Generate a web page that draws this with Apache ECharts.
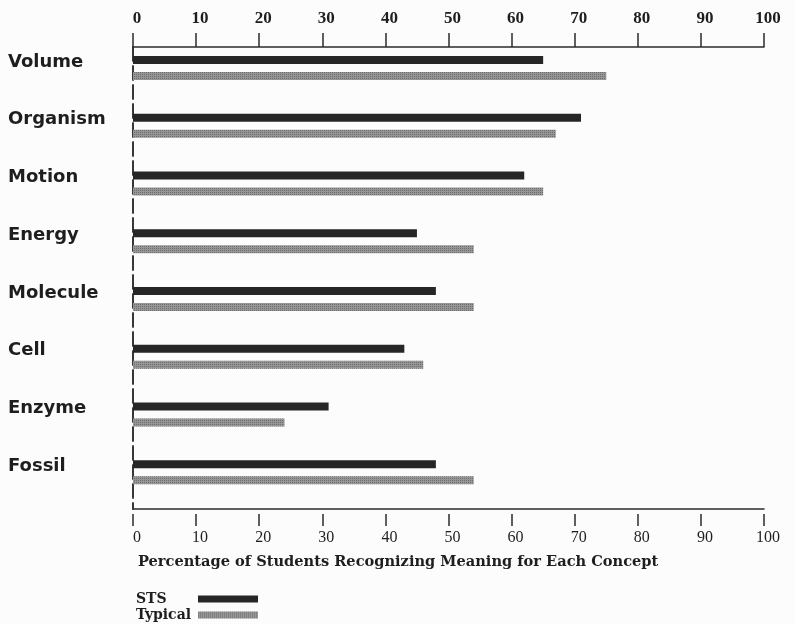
<!DOCTYPE html>
<html>
<head>
<meta charset="utf-8">
<script src="https://cdn.jsdelivr.net/npm/echarts@6/dist/echarts.min.js"></script>
<style>
html,body{margin:0;padding:0;background:#fcfcfc;}
#c{width:795px;height:624px;}
</style>
</head>
<body>
<div id="c"></div>
<script>
const categories = ['Volume','Organism','Motion','Energy','Molecule','Cell','Enzyme','Fossil'];
const stsValues = [65, 71, 62, 45, 48, 43, 31, 48];
const typicalValues = [75, 67, 65, 54, 54, 46, 24, 54];
const xTicks = [0,10,20,30,40,50,60,70,80,90,100];
const xTitle = 'Percentage of Students Recognizing Meaning for Each Concept';

const serif = '"Liberation Serif", "DejaVu Serif", serif';
const wideSerif = '"DejaVu Serif", serif';
const sans = '"DejaVu Sans", sans-serif';
const ink = '#2b2b2b';

const chart = echarts.init(document.getElementById('c'), null, {renderer:'canvas'});
const valAxisBase = {
  type:'value', min:xTicks[0], max:xTicks[xTicks.length-1], interval:10,
  splitLine:{show:false}
};
chart.setOption({
  backgroundColor:'#fcfcfc',
  animation:false,
  title:{
    text:xTitle, left:133, top:550,
    textStyle:{fontFamily:wideSerif, fontWeight:'bold', fontSize:14.6, color:'#1e1e1e'}
  },
  legend:{
    data:['STS','Typical'], orient:'vertical', left:131, top:587, height:40, align:'right',
    itemWidth:60, itemHeight:7, itemGap:2, icon:'rect', selectedMode:false,
    formatter:function(n){ return '{n|' + n + '}'; },
    textStyle:{
      rich:{n:{fontFamily:wideSerif, fontWeight:'bold', fontSize:14, lineHeight:17, color:'#1e1e1e', width:57, align:'left'}}
    }
  },
  grid:{left:133, right:31, top:47, bottom:115, containLabel:false},
  xAxis:[
    Object.assign({}, valAxisBase, {
      position:'top',
      axisLine:{show:true, lineStyle:{color:ink, width:1.5}},
      axisTick:{show:true, length:14, lineStyle:{color:ink, width:1.5}},
      axisLabel:{margin:20, fontFamily:serif, fontWeight:'bold', fontSize:17, color:'#1e1e1e', padding:[0,0,0,8]}
    }),
    Object.assign({}, valAxisBase, {
      position:'bottom',
      axisLine:{show:true, lineStyle:{color:ink, width:1.5}},
      axisTick:{show:false}, axisLabel:{show:false}
    }),
    Object.assign({}, valAxisBase, {
      position:'bottom', offset:5,
      axisLine:{show:false},
      axisTick:{show:true, length:12, lineStyle:{color:ink, width:1.5}},
      axisLabel:{margin:16, fontFamily:serif, fontSize:16, color:'#1e1e1e', padding:[0,0,0,8]}
    })
  ],
  yAxis:[
    {
      type:'category', inverse:true, data:categories, position:'left',
      axisLine:{show:true, lineStyle:{color:ink, width:1.5, type:[14,5]}},
      axisTick:{show:false},
      axisLabel:{
        align:'left', margin:125,
        formatter:function(v){ return '{a|' + v + '}\n{b| }'; },
        rich:{
          a:{fontFamily:sans, fontWeight:'bold', fontSize:18, lineHeight:18, color:'#1e1e1e'},
          b:{fontSize:1, lineHeight:28}
        }
      }
    },
    {
      type:'category', inverse:true, data:categories, position:'right',
      axisLine:{show:true, lineStyle:{color:ink, width:1.5, type:[14,5]}},
      axisTick:{show:false}, axisLabel:{show:false}
    }
  ],
  series:[
    {name:'STS', type:'bar', xAxisIndex:0, yAxisIndex:0, data:stsValues, barWidth:8, barGap:'100%',
     itemStyle:{color:'#262626'}},
    {name:'Typical', type:'bar', xAxisIndex:0, yAxisIndex:0, data:typicalValues, barWidth:8, barGap:'100%',
     itemStyle:{color:'#969696', decal:{symbol:'rect', symbolSize:1, dashArrayX:[1,1], dashArrayY:[1,1], color:'rgba(60,60,60,0.45)'}}},
    {name:'spacer', type:'bar', xAxisIndex:0, yAxisIndex:0, data:categories.map(()=>'-'), barWidth:8, barGap:'100%',
     itemStyle:{color:'rgba(0,0,0,0)'}}
  ]
});
</script>
</body>
</html>
